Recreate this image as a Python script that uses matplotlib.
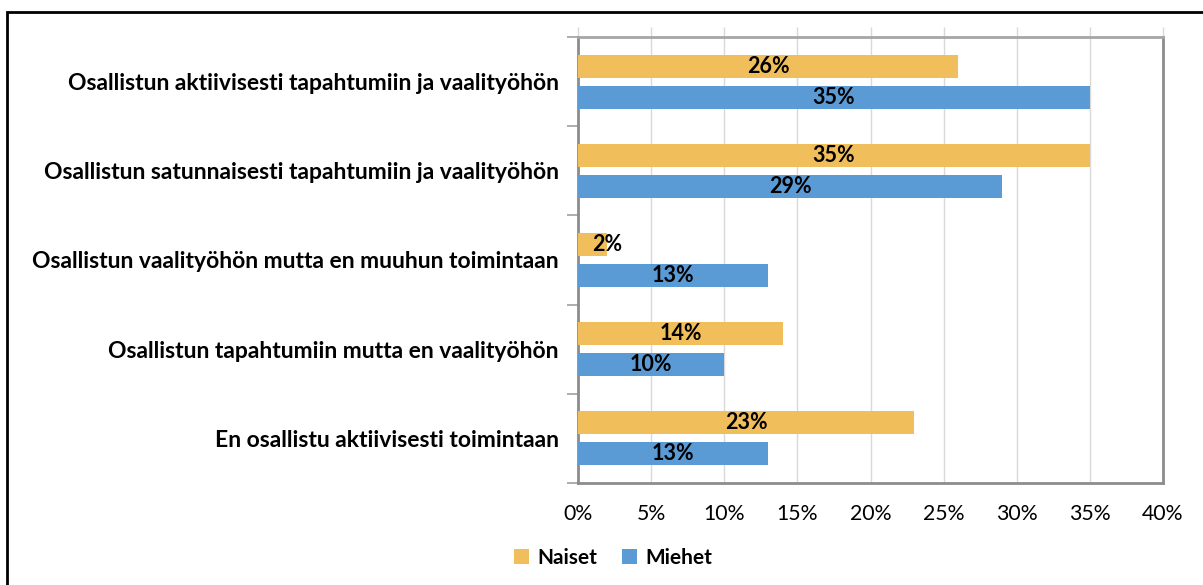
import matplotlib
matplotlib.use("Agg")
import matplotlib.pyplot as plt
from matplotlib.patches import Rectangle, Patch
import numpy as np

categories = [
    "Osallistun aktiivisesti tapahtumiin ja vaalityöhön",
    "Osallistun satunnaisesti tapahtumiin ja vaalityöhön",
    "Osallistun vaalityöhön mutta en muuhun toimintaan",
    "Osallistun tapahtumiin mutta en vaalityöhön",
    "En osallistu aktiivisesti toimintaan",
]
naiset = [26, 35, 2, 14, 23]
miehet = [35, 29, 13, 10, 13]
series_names = ["Naiset", "Miehet"]
xticks = [0, 5, 10, 15, 20, 25, 30, 35, 40]

col_n = "#F0BE5A"
col_m = "#5B9BD5"
FONT = "Lato"

plt.rcParams['font.family'] = [FONT, 'DejaVu Sans']

W, H = 1203, 585
fig = plt.figure(figsize=(W / 100, H / 100), dpi=100)
ax = fig.add_axes([578 / W, 1 - 483 / H, (1163 - 578) / W, (483 - 37) / H])

n = len(categories)
y = np.arange(n)
h = 0.258
off = 0.174
ax.barh(y - off, naiset, height=h, color=col_n, zorder=3)
ax.barh(y + off, miehet, height=h, color=col_m, zorder=3)

for yi, v in zip(y - off, naiset):
    x = v if v < 5 else v / 2
    ax.text(x, yi, f"{v}%", ha="center", va="center", fontsize=15.5, fontweight="bold", zorder=4)
for yi, v in zip(y + off, miehet):
    x = v if v < 5 else v / 2
    ax.text(x, yi, f"{v}%", ha="center", va="center", fontsize=15.5, fontweight="bold", zorder=4)

ax.set_xlim(0, 40)
ax.set_ylim(n - 0.5, -0.5)
ax.set_xticks(xticks)
ax.set_xticklabels([f"{t}%" for t in xticks], fontsize=15.3)
ax.set_yticks(y)
ax.set_yticklabels(categories, fontsize=16.5, fontweight="bold")
ax.set_yticks(np.arange(n + 1) - 0.5, minor=True)
ax.tick_params(axis="y", which="major", length=0, pad=14)
ax.tick_params(axis="y", which="minor", length=8, width=1.2, color="#A0A0A0")
ax.tick_params(axis="x", which="major", length=7, width=1, color="#D9D9D9",
               bottom=False, top=True, labelbottom=True, labeltop=False, pad=8)
ax.grid(axis="x", color="#D9D9D9", linewidth=1, zorder=0)

for s in ["left", "bottom", "right", "top"]:
    ax.spines[s].set_color("#8C8C8C")
    ax.spines[s].set_linewidth(2)
ax.spines["top"].set_color("#A6A6A6")

handles = [Patch(facecolor=col_n, label=series_names[0]),
           Patch(facecolor=col_m, label=series_names[1])]
leg = fig.legend(handles=handles, loc="center", bbox_to_anchor=(613 / W, 1 - 558 / H),
                 ncol=2, frameon=False, prop={"size": 15, "weight": "bold"},
                 handlelength=0.7, handleheight=0.7, handletextpad=0.4, columnspacing=1.2)

fig.patches.append(Rectangle((7 / W, -0.1), 1.2, 1 - 12 / H + 0.1, transform=fig.transFigure,
                             fill=False, edgecolor="black", linewidth=2))

fig.savefig("out.png", dpi=100)
